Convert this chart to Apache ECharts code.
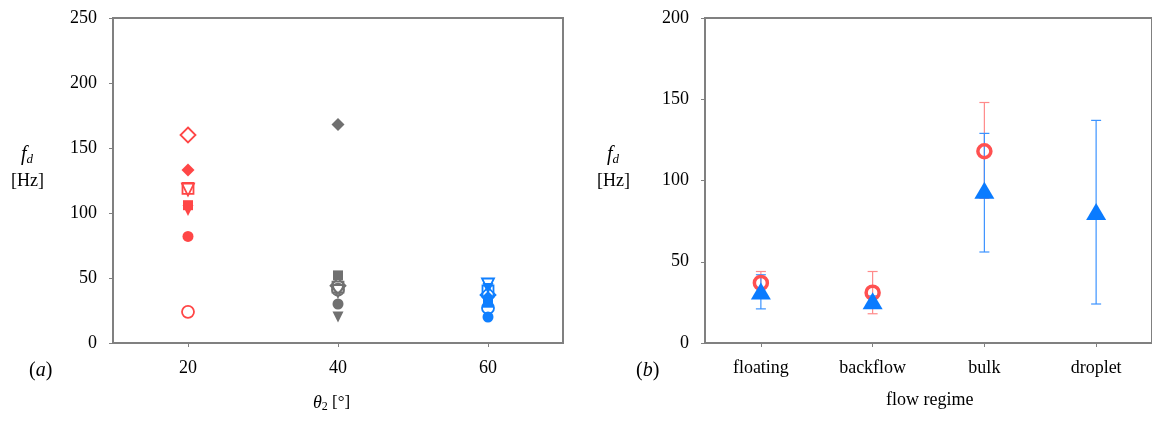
<!DOCTYPE html>
<html>
<head>
<meta charset="utf-8">
<script src="https://cdn.jsdelivr.net/npm/echarts@6/dist/echarts.min.js"></script>
<style>
  html, body { margin: 0; padding: 0; background: #fff; }
  #chart { width: 1152px; height: 421px; }
</style>
</head>
<body>
<div id="chart"></div>
<script>
// (a) drop frequency vs angle, one value per marker type
const angles = [20, 40, 60]
const markerNames = ['openCircle', 'filledCircle', 'openDiamond', 'filledDiamond', 'openSquare', 'filledSquare', 'openTriDown', 'filledTriDown']
const fdAt20 = [24, 82, 160, 133, 119, 106, 118, 102]
const fdAt40 = [41, 30, 44, 168, 43, 52, 40, 20]
const fdAt60 = [27, 20, 37, 35, 40, 31, 45, 42]
const yTicksA = [0, 50, 100, 150, 200, 250]

// (b) mean and range per flow regime
const regimes = ['floating', 'backflow', 'bulk', 'droplet']
const redMean = [37, 31, 118, null]
const redLow = [31, 18, 89, null]
const redHigh = [44, 44, 148, null]
const blueMean = [32, 26, 94, 81]
const blueLow = [21, 24, 56, 24]
const blueHigh = [42, 29, 129, 137]
const yTicksB = [0, 50, 100, 150, 200]

const angleColors = ['#ff4646', '#707070', '#0f7fff']
const axisGray = '#808080'
const font = 'Liberation Serif'

const markerStyle = {
  openCircle: { symbol: 'circle', open: true, size: 12, rotate: 0 },
  filledCircle: { symbol: 'circle', open: false, size: 11, rotate: 0 },
  openDiamond: { symbol: 'diamond', open: true, size: 15, rotate: 0 },
  filledDiamond: { symbol: 'diamond', open: false, size: 13, rotate: 0 },
  openSquare: { symbol: 'rect', open: true, size: 11, rotate: 0 },
  filledSquare: { symbol: 'rect', open: false, size: 10, rotate: 0 },
  openTriDown: { symbol: 'triangle', open: true, size: 12, rotate: 180 },
  filledTriDown: { symbol: 'triangle', open: false, size: 11, rotate: 180 }
}

const byAngle = [fdAt20, fdAt40, fdAt60]
const scatterA = []
markerNames.forEach((name, m) => {
  const st = markerStyle[name]
  angles.forEach((ang, i) => {
    const c = angleColors[i]
    scatterA.push({
      type: 'scatter',
      xAxisIndex: 0,
      yAxisIndex: 0,
      symbol: st.symbol,
      symbolSize: st.size,
      symbolRotate: st.rotate,
      z: st.open ? 3 : 2,
      itemStyle: st.open
        ? { color: 'rgba(255,255,255,0)', borderColor: c, borderWidth: 1.8, opacity: 1 }
        : { color: c, opacity: 1 },
      data: [[ang, byAngle[i][m]]]
    })
  })
})

function errorBars(low, high, color, z) {
  const data = []
  regimes.forEach((r, i) => {
    if (low[i] != null) data.push([i, low[i], high[i]])
  })
  return {
    type: 'custom',
    xAxisIndex: 1,
    yAxisIndex: 1,
    z: z,
    data: data,
    renderItem: (params, api) => {
      const lo = api.coord([api.value(0), api.value(1)])
      const hi = api.coord([api.value(0), api.value(2)])
      const w = 5
      const style = { stroke: color, lineWidth: 1.2 }
      return {
        type: 'group',
        children: [
          { type: 'line', shape: { x1: lo[0], y1: lo[1], x2: hi[0], y2: hi[1] }, style },
          { type: 'line', shape: { x1: lo[0] - w, y1: lo[1], x2: lo[0] + w, y2: lo[1] }, style },
          { type: 'line', shape: { x1: hi[0] - w, y1: hi[1], x2: hi[0] + w, y2: hi[1] }, style }
        ]
      }
    }
  }
}

const axisCommon = {
  axisLine: { show: true, lineStyle: { color: axisGray, width: 2 } },
  axisTick: { show: true, inside: false, length: 4, lineStyle: { color: axisGray, width: 1 } },
  splitLine: { show: false },
  axisLabel: { color: '#000', fontFamily: font, fontSize: 18 }
}

const chart = echarts.init(document.getElementById('chart'))
chart.setOption({
  backgroundColor: '#fff',
  animation: false,
  grid: [
    { left: 113, top: 18, width: 450, height: 325, show: true, borderColor: axisGray, borderWidth: 2, backgroundColor: 'transparent' },
    { left: 705, top: 18, width: 448, height: 325, show: true, borderColor: axisGray, borderWidth: 2, backgroundColor: 'transparent' }
  ],
  xAxis: [
    Object.assign({}, axisCommon, {
      gridIndex: 0, type: 'value', min: 10, max: 70, interval: 10,
      axisTick: Object.assign({}, axisCommon.axisTick, { customValues: angles }),
      axisLabel: Object.assign({}, axisCommon.axisLabel, { margin: 16, customValues: angles })
    }),
    Object.assign({}, axisCommon, {
      gridIndex: 1, type: 'category', data: regimes, boundaryGap: true,
      axisTick: Object.assign({}, axisCommon.axisTick, { alignWithLabel: true }),
      axisLabel: Object.assign({}, axisCommon.axisLabel, { margin: 16 })
    })
  ],
  yAxis: [
    Object.assign({}, axisCommon, {
      gridIndex: 0, type: 'value', min: yTicksA[0], max: yTicksA[yTicksA.length - 1], interval: 50,
      axisLabel: Object.assign({}, axisCommon.axisLabel, { margin: 16 })
    }),
    Object.assign({}, axisCommon, {
      gridIndex: 1, type: 'value', min: yTicksB[0], max: yTicksB[yTicksB.length - 1], interval: 50,
      axisLabel: Object.assign({}, axisCommon.axisLabel, { margin: 16 })
    })
  ],
  series: scatterA.concat([
    errorBars(redLow, redHigh, '#ff8a8a', 2),
    errorBars(blueLow, blueHigh, '#3c93ff', 3),
    {
      type: 'scatter', xAxisIndex: 1, yAxisIndex: 1, z: 4,
      symbol: 'circle', symbolSize: 13,
      itemStyle: { color: 'rgba(255,255,255,0)', borderColor: '#ff5050', borderWidth: 3.5, opacity: 1 },
      data: redMean.map((v, i) => [i, v]).filter(d => d[1] != null)
    },
    {
      type: 'scatter', xAxisIndex: 1, yAxisIndex: 1, z: 5,
      symbol: 'triangle', symbolSize: [20, 17],
      itemStyle: { color: '#0a7bff', opacity: 1 },
      data: blueMean.map((v, i) => [i, v])
    }
  ]),
  graphic: [
    { type: 'text', left: 21, top: 145, style: { text: '{f|f}{d|d}', rich: { f: { fontFamily: font, fontStyle: 'italic', fontSize: 20 }, d: { fontFamily: font, fontStyle: 'italic', fontSize: 13, padding: [9, 0, 0, 0] } } } },
    { type: 'text', left: 11, top: 172, style: { text: '[Hz]', fontFamily: font, fontSize: 18, fill: '#000' } },
    { type: 'text', left: 607, top: 145, style: { text: '{f|f}{d|d}', rich: { f: { fontFamily: font, fontStyle: 'italic', fontSize: 20 }, d: { fontFamily: font, fontStyle: 'italic', fontSize: 13, padding: [9, 0, 0, 0] } } } },
    { type: 'text', left: 597, top: 172, style: { text: '[Hz]', fontFamily: font, fontSize: 18, fill: '#000' } },
    { type: 'text', left: 29, top: 361, style: { text: '({i|a})', fontFamily: font, fontSize: 20, fill: '#000', rich: { i: { fontFamily: font, fontStyle: 'italic', fontSize: 20 } } } },
    { type: 'text', left: 636, top: 361, style: { text: '({i|b})', fontFamily: font, fontSize: 20, fill: '#000', rich: { i: { fontFamily: font, fontStyle: 'italic', fontSize: 20 } } } },
    { type: 'text', left: 313, top: 394, style: { text: '{t|θ}{s|2} [°]', fontFamily: font, fontSize: 17, fill: '#000', rich: { t: { fontFamily: font, fontStyle: 'italic', fontSize: 18 }, s: { fontFamily: font, fontSize: 12, padding: [7, 0, 0, 0] } } } },
    { type: 'text', left: 886, top: 391, style: { text: 'flow regime', fontFamily: font, fontSize: 18, fill: '#000' } }
  ]
})
</script>
</body>
</html>
